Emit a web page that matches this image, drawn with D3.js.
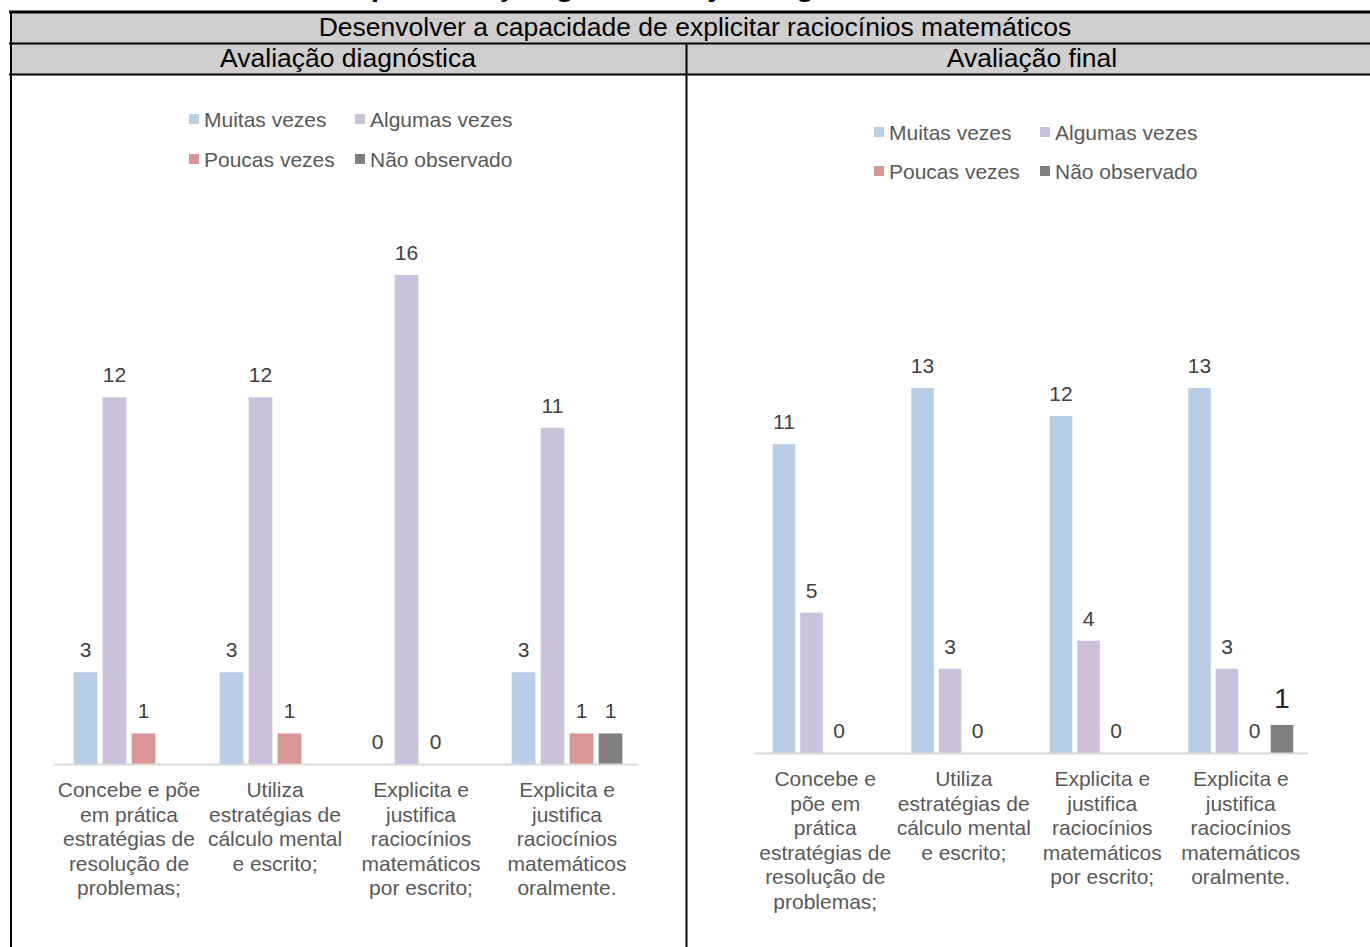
<!DOCTYPE html>
<html>
<head>
<meta charset="utf-8">
<script src="https://cdn.jsdelivr.net/npm/d3@7"></script>
<style>
  body { margin: 0; background: #fff; }
  svg { display: block; font-family: "Liberation Sans", Arial, sans-serif; }
</style>
</head>
<body>
<svg id="chart" width="1370" height="947"></svg>
<script>
// series names and colours (legend order)
const seriesNames = ['Muitas vezes', 'Algumas vezes', 'Poucas vezes', 'Não observado'];
const seriesColors = ['#b9cde5', '#ccc1da', '#d99694', '#808080'];

// category labels, already broken into lines as in the picture
const categoriesDiag = [
    ['Concebe e põe', 'em prática', 'estratégias de', 'resolução de', 'problemas;'],
    ['Utiliza', 'estratégias de', 'cálculo mental', 'e escrito;'],
    ['Explicita e', 'justifica', 'raciocínios', 'matemáticos', 'por escrito;'],
    ['Explicita e', 'justifica', 'raciocínios', 'matemáticos', 'oralmente.']
];
const categoriesFinal = [
    ['Concebe e', 'põe em', 'prática', 'estratégias de', 'resolução de', 'problemas;'],
    ['Utiliza', 'estratégias de', 'cálculo mental', 'e escrito;'],
    ['Explicita e', 'justifica', 'raciocínios', 'matemáticos', 'por escrito;'],
    ['Explicita e', 'justifica', 'raciocínios', 'matemáticos', 'oralmente.']
];

// values per series, one entry per category (null = no point)
const diagMuitas   = [3, 3, 0, 3];
const diagAlgumas  = [12, 12, 16, 11];
const diagPoucas   = [1, 1, 0, 1];
const diagNaoObs   = [null, null, null, 1];

const finalMuitas  = [11, 13, 12, 13];
const finalAlgumas = [5, 3, 4, 3];
const finalPoucas  = [0, 0, 0, 0];
const finalNaoObs  = [null, null, null, 1];

const svg = d3.select('#chart');

// document title above the table, cut by the page top (only descenders show)
svg.append('text')
    .attr('x', 600).attr('y', -4)
    .attr('text-anchor', 'middle')
    .attr('font-size', 30).attr('font-weight', 'bold')
    .attr('fill', '#000')
    .text('Representação gráfica: objetivo geral');

// table header rows
const headerGray = '#d0cece';
svg.append('rect').attr('x', 10).attr('y', 12).attr('width', 1370).attr('height', 62).attr('fill', headerGray);
svg.append('line').attr('x1', 9).attr('x2', 1370).attr('y1', 12).attr('y2', 12).attr('stroke', '#000').attr('stroke-width', 3);
svg.append('line').attr('x1', 9).attr('x2', 1370).attr('y1', 43.5).attr('y2', 43.5).attr('stroke', '#000').attr('stroke-width', 2);
svg.append('line').attr('x1', 9).attr('x2', 1370).attr('y1', 74.5).attr('y2', 74.5).attr('stroke', '#000').attr('stroke-width', 2);
svg.append('line').attr('x1', 11).attr('x2', 11).attr('y1', 11).attr('y2', 947).attr('stroke', '#000').attr('stroke-width', 2);
svg.append('line').attr('x1', 686.5).attr('x2', 686.5).attr('y1', 43).attr('y2', 947).attr('stroke', '#000').attr('stroke-width', 2);

svg.append('text').attr('x', 695).attr('y', 36).attr('text-anchor', 'middle')
    .attr('font-size', 26.5).attr('fill', '#000')
    .text('Desenvolver a capacidade de explicitar raciocínios matemáticos');
svg.append('text').attr('x', 348).attr('y', 67).attr('text-anchor', 'middle')
    .attr('font-size', 26.5).attr('fill', '#000')
    .text('Avaliação diagnóstica');
svg.append('text').attr('x', 1032).attr('y', 67).attr('text-anchor', 'middle')
    .attr('font-size', 26.5).attr('fill', '#000')
    .text('Avaliação final');

/**
 * Draws one clustered column chart with legend, value labels and category labels
 */
function drawPanel(cfg) {
    const g = svg.append('g');
    const catIdx = cfg.categories.map((d, i) => i);

    const x0 = d3.scaleBand()
        .domain(catIdx)
        .range(cfg.xRange)
        .paddingInner(0.206)
        .paddingOuter(0.103);
    const x1 = d3.scaleBand()
        .domain(seriesNames)
        .range([0, x0.bandwidth()])
        .paddingInner(0.18)
        .paddingOuter(0.09);
    const y = d3.scaleLinear()
        .domain(cfg.yDomain)
        .range(cfg.yRange);

    // legend
    const legendItems = g.selectAll('g.legend').data(seriesNames).enter()
        .append('g')
        .attr('transform', (d, i) =>
            `translate(${cfg.legendX[i % 2]},${cfg.legendY[Math.floor(i / 2)]})`);
    legendItems.append('rect')
        .attr('x', 0).attr('y', -5).attr('width', 10).attr('height', 10)
        .attr('fill', (d, i) => seriesColors[i]);
    legendItems.append('text')
        .attr('x', 15).attr('y', 7.5)
        .attr('font-size', 21).attr('fill', '#595959')
        .text(d => d);

    // flatten the data into one entry per column
    const cells = [];
    cfg.values.forEach((vals, s) => {
        vals.forEach((v, c) => {
            if (v !== null) cells.push({ s: s, c: c, v: v });
        });
    });

    g.selectAll('rect.bar').data(cells).enter()
        .append('rect')
        .attr('class', 'bar')
        .attr('x', d => x0(d.c) + x1(seriesNames[d.s]))
        .attr('width', x1.bandwidth())
        .attr('y', d => y(d.v))
        .attr('height', d => y(0) - y(d.v))
        .attr('fill', d => seriesColors[d.s]);

    // baseline
    g.append('line')
        .attr('x1', cfg.xRange[0] - 2).attr('x2', cfg.xRange[1] - 2)
        .attr('y1', y(0) + 0.5).attr('y2', y(0) + 0.5)
        .attr('stroke', '#d9d9d9').attr('stroke-width', 2);

    // value labels
    g.selectAll('text.val').data(cells).enter()
        .append('text')
        .attr('class', 'val')
        .attr('x', d => x0(d.c) + x1(seriesNames[d.s]) + x1.bandwidth() / 2)
        .attr('y', d => y(d.v) - (cfg.bigLabel(d) ? 17 : 15))
        .attr('text-anchor', 'middle')
        .attr('font-size', d => cfg.bigLabel(d) ? 28 : 21)
        .attr('fill', d => cfg.bigLabel(d) ? '#262626' : '#404040')
        .text(d => d.v);

    // category labels
    const catLabels = g.selectAll('text.cat').data(cfg.categories).enter()
        .append('text')
        .attr('class', 'cat')
        .attr('text-anchor', 'middle')
        .attr('font-size', 21).attr('fill', '#595959');
    catLabels.selectAll('tspan').data((d, i) => d.map(line => ({ line: line, c: i }))).enter()
        .append('tspan')
        .attr('x', d => x0(d.c) + x0.bandwidth() / 2)
        .attr('y', (d, i) => y(0) + 33 + i * 24.5)
        .text(d => d.line);
}

drawPanel({
    categories: categoriesDiag,
    values: [diagMuitas, diagAlgumas, diagPoucas, diagNaoObs],
    xRange: [56, 640],
    yDomain: [0, 16],
    yRange: [764, 275],
    legendX: [189, 355],
    legendY: [119, 159],
    bigLabel: d => false
});

drawPanel({
    categories: categoriesFinal,
    values: [finalMuitas, finalAlgumas, finalPoucas, finalNaoObs],
    xRange: [756, 1310],
    yDomain: [0, 13],
    yRange: [753, 388],
    legendX: [874, 1040],
    legendY: [132, 171],
    bigLabel: d => d.s === 3
});
</script>
</body>
</html>
